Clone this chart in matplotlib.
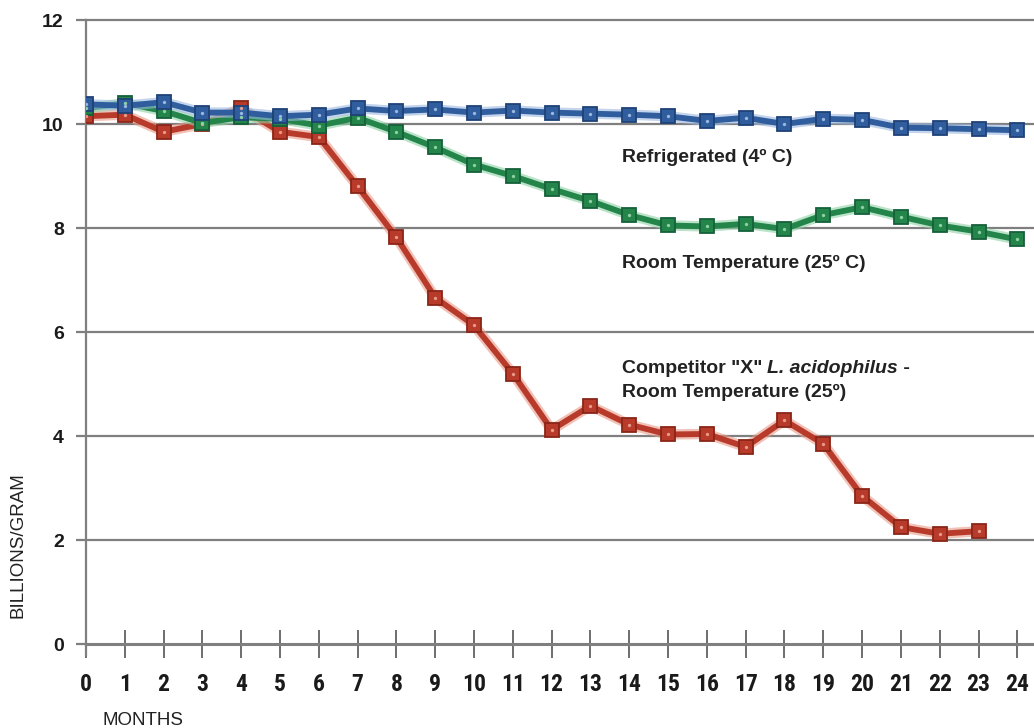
import numpy as np
import matplotlib
matplotlib.use("Agg")
import matplotlib.pyplot as plt
from matplotlib import font_manager as fm

months = np.arange(25)
refrigerated = [10.38, 10.35, 10.42, 10.22, 10.22, 10.15, 10.18, 10.30, 10.25,
                10.28, 10.22, 10.26, 10.22, 10.20, 10.18, 10.15, 10.06, 10.12,
                10.00, 10.10, 10.08, 9.93, 9.92, 9.90, 9.88]
room_temp = [10.30, 10.40, 10.25, 10.02, 10.13, 10.10, 9.97, 10.12, 9.85,
             9.55, 9.22, 9.00, 8.75, 8.52, 8.25, 8.05, 8.03, 8.08,
             7.98, 8.25, 8.40, 8.22, 8.05, 7.93, 7.78]
competitor = [10.15, 10.18, 9.85, 10.00, 10.30, 9.85, 9.75, 8.80, 7.82,
              6.66, 6.13, 5.20, 4.12, 4.58, 4.22, 4.03, 4.04, 3.79,
              4.30, 3.85, 2.85, 2.25, 2.12, 2.17]
y_ticks = [0, 2, 4, 6, 8, 10, 12]

bold_font = ['Liberation Sans', 'DejaVu Sans']

# look for a condensed bold face for the month numbers
cond_bold = None
cands = []
for f in fm.fontManager.ttflist:
    p = f.fname.lower()
    if ('condensed' in p or 'narrow' in p) and 'bold' in p \
            and 'italic' not in p and 'oblique' not in p:
        cands.append(f.fname)
for key in ['roboto', 'liberation', 'dejavu', '']:
    hit = [c for c in cands if key in c.lower()]
    if hit:
        cond_bold = hit[0]
        break

fig = plt.figure(figsize=(10.34, 7.28), dpi=100)
ax = fig.add_axes([86/1034, 0.0996, 1 - 86/1034, 0.8729])
ax.set_xlim(0, 24.43)
ax.set_ylim(-0.22, 12)

grid_col = '#7f7f7f'
for v in y_ticks[1:]:
    ax.axhline(v, color=grid_col, lw=1.6, zorder=1, clip_on=False)

for s in ['top', 'right']:
    ax.spines[s].set_visible(False)
ax.spines['left'].set_color(grid_col)
ax.spines['left'].set_linewidth(1.6)
ax.spines['bottom'].set_position(('data', 0))
ax.spines['bottom'].set_color(grid_col)
ax.spines['bottom'].set_linewidth(2.2)

series = [
    (competitor, '#b83a2a', '#e89a88', '#8a2618'),
    (room_temp, '#238549', '#8fd1a5', '#16603a'),
    (refrigerated, '#2f5d9e', '#9bb8e0', '#1f4277'),
]
for vals, col, light, dark in series:
    x = months[:len(vals)]
    ax.plot(x, vals, color=light, lw=7.5, alpha=0.6, solid_capstyle='round', zorder=3)
    ax.plot(x, vals, color=col, lw=4.2, solid_capstyle='round', zorder=3)
    ax.plot(x, vals, ls='none', marker='s', ms=10, mfc=col, mec=dark, mew=1.3, zorder=4)
    ax.plot(x, vals, ls='none', marker='o', ms=2.4, mfc=light, mec='none', zorder=5)

ax.set_xticks(months)
ax.set_xticklabels([str(m) for m in months])
if cond_bold:
    xprop = fm.FontProperties(fname=cond_bold, size=17)
else:
    xprop = fm.FontProperties(family=bold_font, weight='bold', size=15)
for lbl in ax.get_xticklabels():
    lbl.set_fontproperties(xprop)
ax.tick_params(axis='x', direction='inout', length=20, width=1.2,
               color='#555555', pad=11)
ax.set_yticks(y_ticks)
ax.set_yticklabels([str(v) for v in y_ticks], family=bold_font,
                   fontweight='bold', fontsize=14)
ax.tick_params(axis='y', direction='out', length=7, width=1.6,
               color=grid_col, pad=9)
for lbl in ax.get_xticklabels() + ax.get_yticklabels():
    lbl.set_color('#1a1a1a')

fig.text(0.0175, 1 - 545/728, 'BILLIONS/GRAM', rotation=90, ha='center',
         va='center', fontsize=13.5, family=bold_font, color='#222222')
fig.text(103/1034, 1 - 725/728, 'MONTHS', ha='left', va='baseline',
         fontsize=13.5, family=bold_font, color='#222222')

tx = 13.8
kw = dict(family=bold_font, fontweight='bold', fontsize=14, color='#222222')
ax.text(tx, 9.27, 'Refrigerated (4º C)', va='baseline', ha='left', **kw)
ax.text(tx, 7.23, 'Room Temperature (25º C)', va='baseline', ha='left', **kw)
t1 = ax.text(tx, 5.21, 'Competitor "X" ', va='baseline', ha='left', **kw)
t2 = ax.annotate('L. acidophilus', xy=(1, 0), xycoords=t1, va='bottom',
                 ha='left', style='italic', **kw)
ax.annotate(' -', xy=(1, 0), xycoords=t2, va='bottom', ha='left', **kw)
ax.text(tx, 4.75, 'Room Temperature (25º)', va='baseline', ha='left', **kw)

fig.savefig('out.png', dpi=100)
